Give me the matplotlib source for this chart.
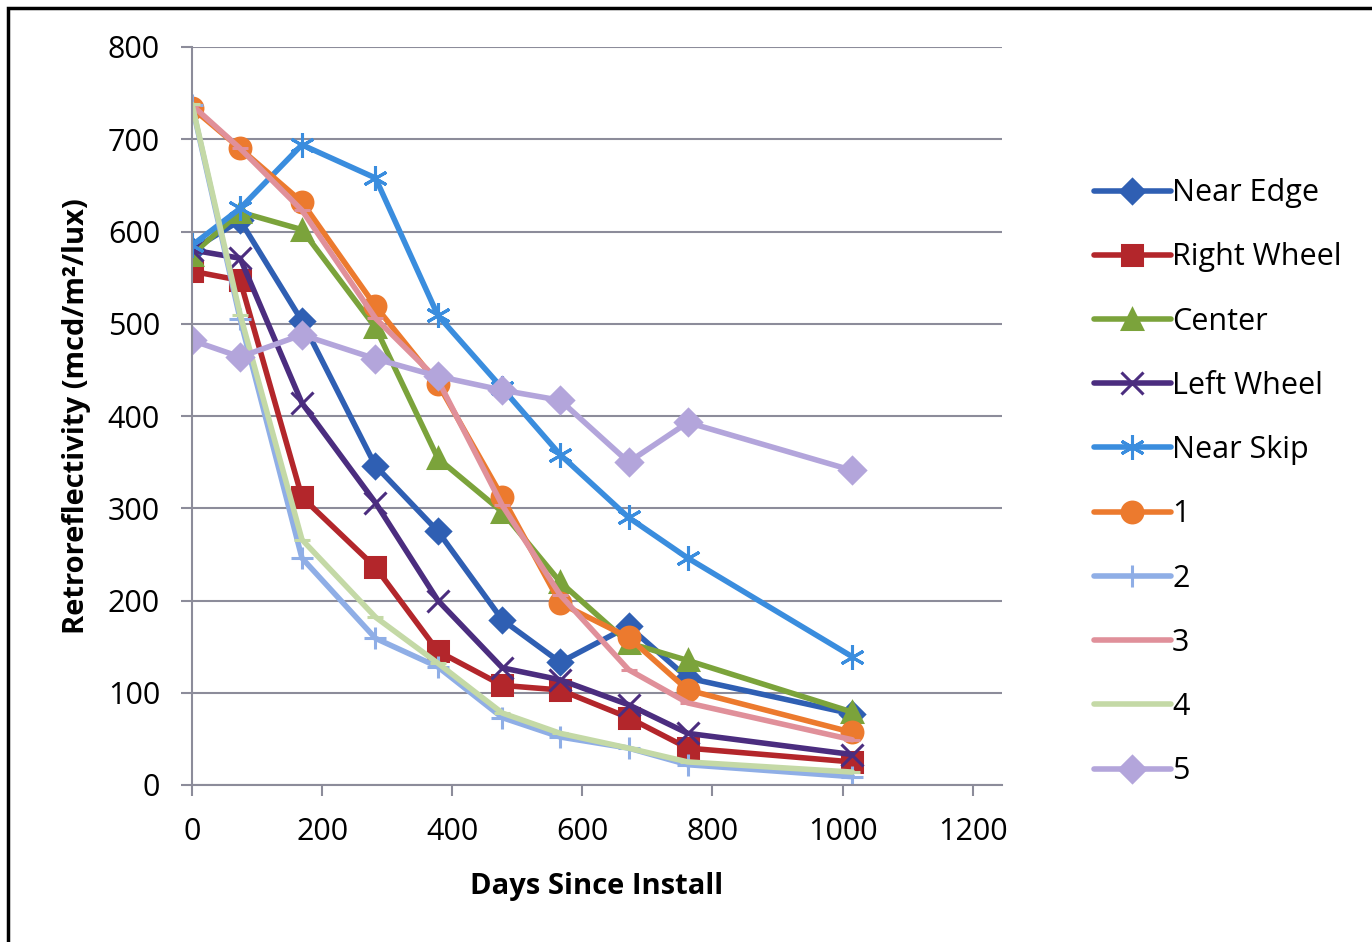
import matplotlib
matplotlib.use("Agg")
import matplotlib.pyplot as plt
from matplotlib.patches import Rectangle

days = [0, 74, 169, 282, 378, 477, 566, 671, 762, 1015]

near_edge   = [580, 612, 503, 346, 275, 179, 133, 172, 116, 77]
right_wheel = [557, 547, 312, 236, 145, 108, 103, 73, 40, 25]
center      = [575, 621, 602, 496, 354, 296, 220, 154, 135, 79]
left_wheel  = [580, 571, 414, 306, 200, 127, 114, 87, 56, 33]
near_skip   = [585, 625, 694, 658, 509, 430, 358, 290, 246, 139]
s1          = [734, 690, 632, 519, 435, 312, 197, 160, 103, 57]
s2          = [737, 505, 246, 159, 128, 73, 52, 40, 22, 9]
s3          = [737, 690, 623, 506, 439, 303, 206, 125, 89, 49]
s4          = [738, 510, 266, 182, 132, 78, 56, 40, 25, 14]
s5          = [482, 464, 488, 462, 443, 428, 417, 350, 393, 341]

labels = ["Near Edge", "Right Wheel", "Center", "Left Wheel", "Near Skip",
          "1", "2", "3", "4", "5"]
series = [near_edge, right_wheel, center, left_wheel, near_skip,
          s1, s2, s3, s4, s5]
colors = ["#2F5FB3", "#B3262B", "#7BA33B", "#4B2D7F", "#3A8DDE",
          "#EC7A2E", "#8FAEE6", "#E0909A", "#C4D9A6", "#B3A5DB"]
markers = ["D", "s", "^", "x", (6, 2, 0), "o", "+", "_", "_", "D"]
msizes = [12, 15, 14, 16, 18, 15, 16, 12, 12, 13]

x_ticks = [0, 200, 400, 600, 800, 1000, 1200]
y_ticks = [0, 100, 200, 300, 400, 500, 600, 700, 800]

plt.rcParams['font.family'] = ['Open Sans', 'DejaVu Sans']

fig = plt.figure(figsize=(13.72, 9.42), dpi=100)
ax = fig.add_axes([192/1372, 1-785/942, (1002-192)/1372, (785-47)/942])

for ys, lab, c, m, ms in zip(series, labels, colors, markers, msizes):
    ax.plot(days, ys, color=c, lw=4.0, marker=m, markersize=ms,
            markerfacecolor=c, markeredgecolor=c, markeredgewidth=2.2,
            label=lab, solid_capstyle='round', solid_joinstyle='round')

ax.set_xlim(0, 1245)
ax.set_ylim(0, 800)
ax.set_xticks(x_ticks)
ax.set_yticks(y_ticks)
ax.yaxis.grid(True, color="#8C8C9A", lw=1.5)
ax.set_axisbelow(True)
for s in ["top", "right"]:
    ax.spines[s].set_visible(False)
for s in ["left", "bottom"]:
    ax.spines[s].set_color("#8C8C9A")
    ax.spines[s].set_linewidth(1.5)
ax.tick_params(axis='both', direction='out', length=8, width=1.5,
               color="#8C8C9A", labelsize=22)
ax.tick_params(axis='x', pad=15)
ax.tick_params(axis='y', pad=15)
ax.set_xlabel("Days Since Install", fontsize=21, fontweight='bold', labelpad=18)
ax.set_ylabel("Retroreflectivity (mcd/m²/lux)", fontsize=21, fontweight='bold', labelpad=12)

leg = fig.legend(loc='upper left', bbox_to_anchor=(1082/1372, 1-166/942),
                 frameon=False, fontsize=22, labelspacing=1.12,
                 handlelength=2.5, handletextpad=0.05, borderaxespad=0)

fig.patches.append(Rectangle((8/1372, -0.05), 1.1, 1-8/942+0.05,
                             transform=fig.transFigure, fill=False,
                             edgecolor='black', lw=2.5))

fig.savefig("out.png", dpi=100)
